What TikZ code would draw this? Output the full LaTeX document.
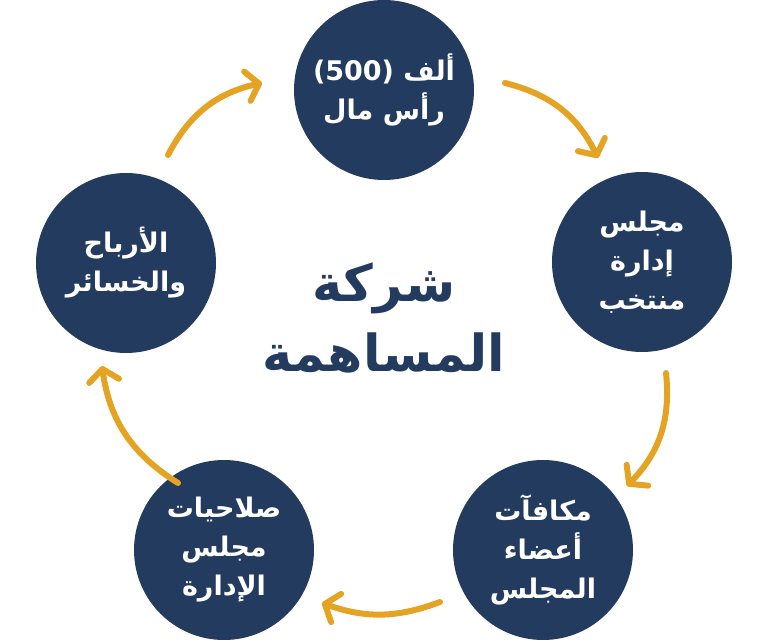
\documentclass[tikz,border=0pt]{standalone}
\usepackage{fontspec}
\usetikzlibrary{arrows.meta}
\TeXXeTstate=1
\newfontfamily\arabicfont[Script=Arabic]{DejaVu Sans}
\newcommand\myRL[1]{\beginR#1\endR}
\definecolor{navy}{HTML}{233B5E}
\definecolor{gold}{HTML}{E5A324}
\tikzset{
  bubble/.style={circle,fill=navy,minimum size=180pt,inner sep=0pt,text=white,
    align=center,font=\arabicfont\bfseries\fontsize{27}{39}\selectfont},
  flow/.style={draw=gold,line width=6pt,line cap=round,
    -{Straight Barb[length=12pt,width=30pt,round]}},
  title/.style={text=navy,align=center,font=\arabicfont\bfseries\fontsize{51}{70}\selectfont}
}
\begin{document}
\begin{tikzpicture}[x=1pt,y=1pt]
\useasboundingbox (0,0) rectangle (768,-644);
\node[bubble] (top) at (384,-90) {\myRL{ألف \beginL(500)\endL}\\\myRL{رأس مال}};
\node[bubble] (right) at (642,-262) {\myRL{مجلس}\\\myRL{إدارة}\\\myRL{منتخب}};
\node[bubble] (br) at (543,-550) {\myRL{مكافآت}\\\myRL{أعضاء}\\\myRL{المجلس}};
\node[bubble] (bl) at (224,-550) {\myRL{صلاحيات}\\\myRL{مجلس}\\\myRL{الإدارة}};
\node[bubble] (left) at (126,-263) {\myRL{الأرباح}\\\myRL{والخسائر}};
\node[title] (center) at (384,-318) {\myRL{شركة}\\\myRL{المساهمة}};
\coordinate (a1s) at (168,-155); \coordinate (a1e) at (262,-83);
\coordinate (a2s) at (505,-83); \coordinate (a2e) at (598,-158);
\coordinate (a3s) at (666,-373); \coordinate (a3e) at (627,-486);
\coordinate (a4s) at (440,-602); \coordinate (a4e) at (322,-603);
\coordinate (a5s) at (178,-483); \coordinate (a5e) at (102,-366);
\draw[flow] (a1s) to[bend left=25] (a1e);
\draw[flow] (a2s) to[bend left=25] (a2e);
\draw[flow] (a3s) to[bend left=25] (a3e);
\draw[flow] (a4s) to[bend left=20] (a4e);
\draw[flow] (a5s) to[bend left=25] (a5e);
\end{tikzpicture}
\end{document}
